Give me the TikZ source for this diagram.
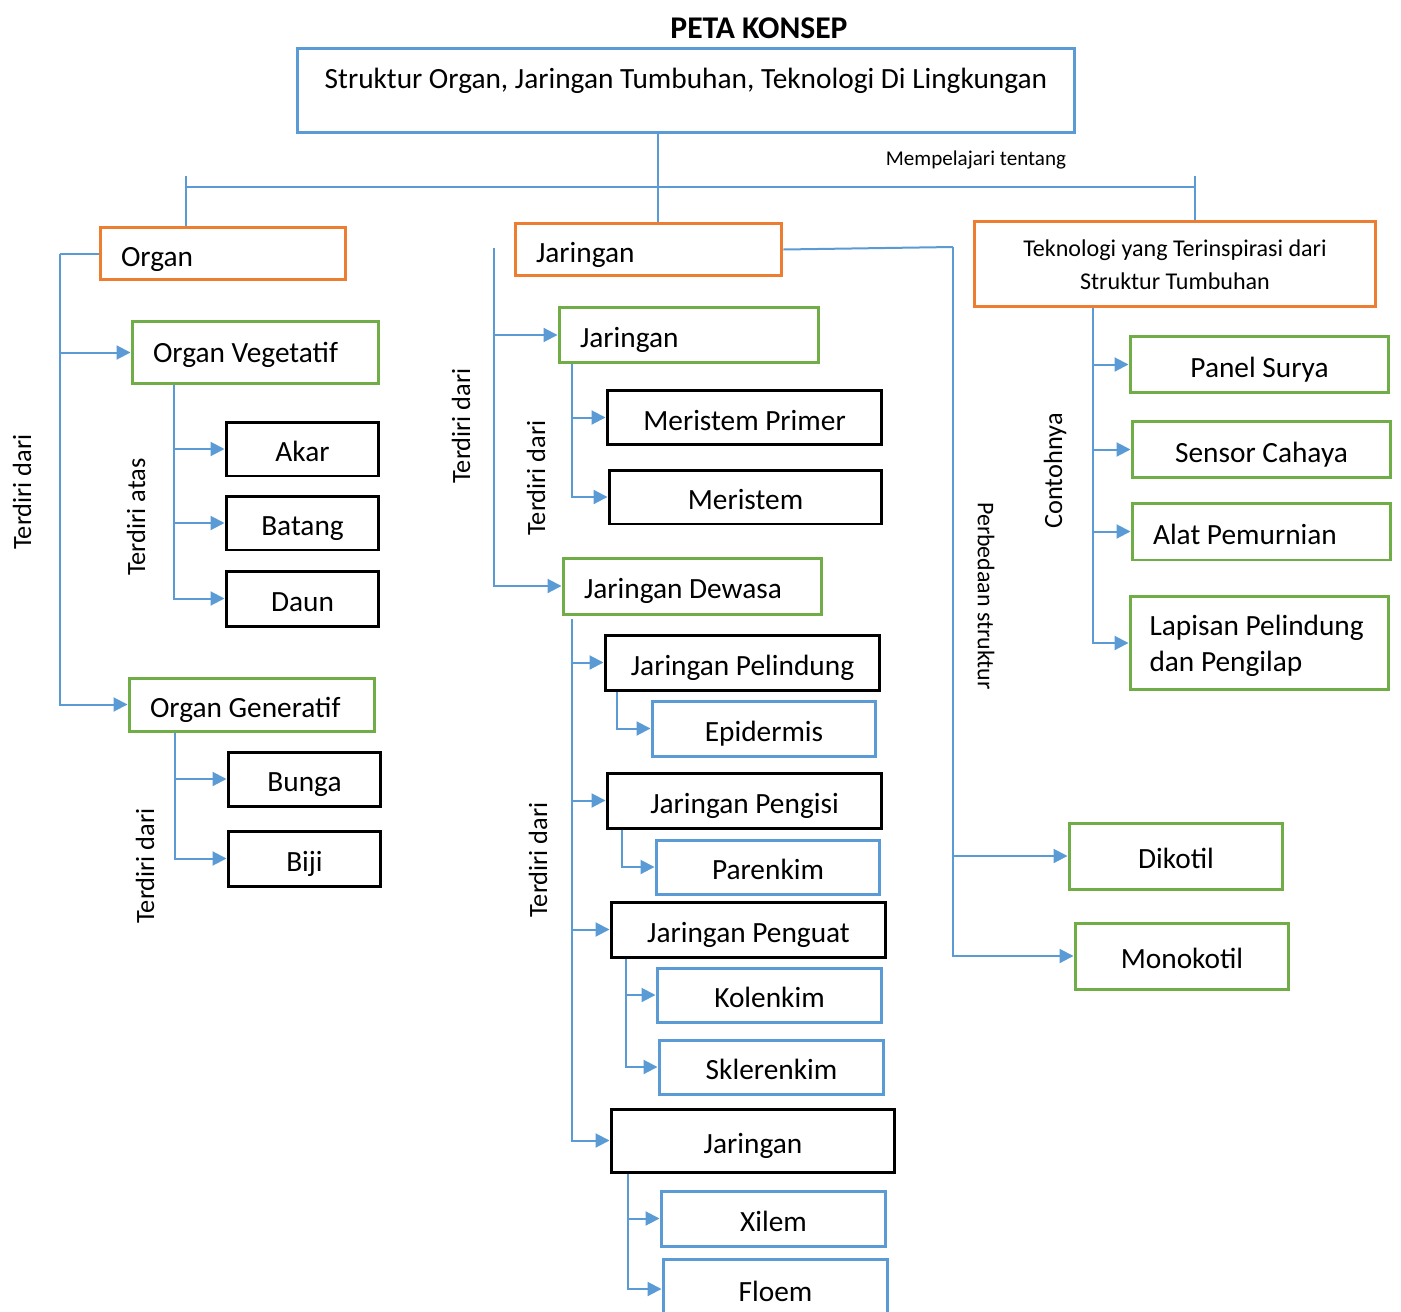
\documentclass[tikz,border=0pt]{standalone}
\usepackage{fontspec}
\setmainfont{Carlito}
\usepackage{tikz}
\usetikzlibrary{arrows.meta}

\definecolor{lblue}{RGB}{91,155,213}
\definecolor{lorange}{RGB}{237,125,49}
\definecolor{lgreen}{RGB}{112,173,71}

\begin{document}
\begin{tikzpicture}[
    x=0.02cm, y=-0.02cm,
    box/.style={rectangle, draw, line width=0.06cm, inner xsep=0.42cm, inner ysep=0pt, text height=0.6cm, text depth=0.1cm, font=\fontsize{16.7}{21}\selectfont},
    boxo/.style={box, draw=lorange},
    boxg/.style={box, draw=lgreen},
    boxk/.style={box, draw=black},
    boxb/.style={box, draw=lblue},
    lbox/.style={align=flush left, text width=#1},
    conn/.style={draw=lblue, line width=0.04cm},
    arrow/.style={conn, -{Triangle[length=0.28cm, width=0.28cm]}},
    sidelbl/.style={inner sep=0pt, font=\fontsize{15}{18}\selectfont}
]
    \useasboundingbox (0,0) rectangle (1401,1312);

    % Title and main topic
    \node[font=\fontsize{18}{22}\selectfont\bfseries] (title) at (759,28) {PETA KONSEP};
    \node[boxb, minimum width=15.56cm, text height=0.8cm, text depth=0.9cm] (main) at (686,90.5) {Struktur Organ, Jaringan Tumbuhan, Teknologi Di Lingkungan};

    % Organ branch
    \node[boxo, lbox=4.08cm, minimum height=1.06cm, text height=0.64cm, text depth=0.12cm] (organ) at (223,253.5) {Organ};
    \node[boxg, lbox=4.1cm, minimum height=1.26cm, text height=0.5cm] (orgveg) at (255.5,352.5) {Organ Vegetatif};
    \node[boxk, minimum width=3.06cm, minimum height=1.08cm] (akar) at (302.5,449) {Akar};
    \node[boxk, minimum width=3.06cm, minimum height=1.08cm] (batang) at (302.5,523) {Batang};
    \node[boxk, minimum width=3.06cm, minimum height=1.1cm] (daun) at (302.5,598.5) {Daun};
    \node[boxg, lbox=4.08cm, minimum height=1.06cm, text height=0.64cm, text depth=0.12cm] (orggen) at (252,704.5) {Organ Generatif};
    \node[boxk, minimum width=3.06cm, minimum height=1.08cm] (bunga) at (304.5,779) {Bunga};
    \node[boxk, minimum width=3.06cm, minimum height=1.1cm] (biji) at (304.5,858.5) {Biji};

    % Jaringan branch
    \node[boxo, lbox=4.5cm, minimum height=1.06cm, text height=0.64cm, text depth=0.12cm] (jar) at (648.5,249.5) {Jaringan};
    \node[boxg, lbox=4.36cm, minimum height=1.12cm] (jarm) at (689,335) {Jaringan};
    \node[boxk, minimum width=5.5cm, minimum height=1.1cm] (merp) at (744.5,417.5) {Meristem Primer};
    \node[boxk, minimum width=5.46cm, minimum height=1.08cm] (mer) at (745.5,497) {Meristem};
    \node[boxg, lbox=4.34cm, minimum height=1.12cm] (jard) at (692.5,586) {Jaringan Dewasa};
    \node[boxk, minimum width=5.5cm, minimum height=1.1cm] (pelindung) at (742.5,662.5) {Jaringan Pelindung};
    \node[boxb, minimum width=4.48cm, minimum height=1.1cm] (epidermis) at (764,728.5) {Epidermis};
    \node[boxk, minimum width=5.5cm, minimum height=1.1cm] (pengisi) at (744.5,800.5) {Jaringan Pengisi};
    \node[boxb, minimum width=4.48cm, minimum height=1.08cm] (parenkim) at (768,867) {Parenkim};
    \node[boxk, minimum width=5.5cm, minimum height=1.1cm] (penguat) at (748.5,929.5) {Jaringan Penguat};
    \node[boxb, minimum width=4.5cm, minimum height=1.08cm] (kolenkim) at (769.5,995) {Kolenkim};
    \node[boxb, minimum width=4.5cm, minimum height=1.08cm] (sklerenkim) at (771.5,1067) {Sklerenkim};
    \node[boxk, minimum width=5.68cm, minimum height=1.26cm] (jarang) at (753,1140.5) {Jaringan};
    \node[boxb, minimum width=4.5cm, minimum height=1.1cm] (xilem) at (773.5,1218.5) {Xilem};
    \node[boxb, minimum width=4.5cm, minimum height=1.2cm] (floem) at (775.5,1289) {Floem};
    \node[boxg, minimum width=4.28cm, minimum height=1.32cm] (dikotil) at (1176,856) {Dikotil};
    \node[boxg, minimum width=4.28cm, minimum height=1.32cm] (monokotil) at (1182,956) {Monokotil};

    % Teknologi branch
    \node[boxo, minimum width=8.04cm, minimum height=1.72cm, align=center, text height=1.13cm, text depth=0.12cm, font=\fontsize{13.7}{18.7}\selectfont] (tek) at (1175,264) {Teknologi yang Terinspirasi dari\\Struktur Tumbuhan};
    \node[boxg, minimum width=5.18cm, minimum height=1.14cm] (panel) at (1259.5,364.5) {Panel Surya};
    \node[boxg, minimum width=5.18cm, minimum height=1.14cm] (sensor) at (1261.5,449.5) {Sensor Cahaya};
    \node[boxg, lbox=4.34cm, minimum height=1.14cm] (alat) at (1261.5,531.5) {Alat Pemurnian};
    \node[boxg, lbox=4.4cm, inner xsep=0.39cm, minimum height=1.88cm, text height=0.57cm, text depth=0.89cm] (lapisan) at (1259.5,643) {Lapisan Pelindung\\dan Pengilap};

    % Top connectors
    \coordinate (hub) at (658,187);
    \coordinate (busl) at (186,176);
    \coordinate (busr) at (1195,176);
    \draw[conn] (hub |- main.south) -- (hub |- jar.north);
    \draw[conn] (busl |- hub) -- (busr |- hub);
    \draw[conn] (busl) -- (busl |- organ.north);
    \draw[conn] (busr) -- (busr |- tek.north);
    \node[font=\fontsize{12}{14}\selectfont] (mempel) at (976,160) {Mempelajari tentang};

    % Organ connectors
    \draw[conn] (organ.west) -- ++(-39,0) coordinate (orgbus);
    \draw[arrow] (orgbus) |- (orgveg.west);
    \draw[arrow] (orgbus) |- (orggen.west);
    \draw[arrow] ([xshift=0.86cm]orgveg.south west) |- (akar.west);
    \draw[arrow] ([xshift=0.86cm]orgveg.south west) |- (batang.west);
    \draw[arrow] ([xshift=0.86cm]orgveg.south west) |- (daun.west);
    \draw[arrow] ([xshift=0.94cm]orggen.south west) |- (bunga.west);
    \draw[arrow] ([xshift=0.94cm]orggen.south west) |- (biji.west);
    \node[sidelbl, rotate=90] (lblorg) at (22,492) {Terdiri dari};
    \node[sidelbl, rotate=90] (lblveg) at (136,517) {Terdiri atas};
    \node[sidelbl, rotate=90] (lblgen) at (145,866) {Terdiri dari};

    % Jaringan connectors
    \coordinate (jarbus) at (494,248);
    \draw[arrow] (jarbus) |- (jarm.west);
    \draw[arrow] (jarbus) |- (jard.west);
    \draw[arrow] ([xshift=0.28cm]jarm.south west) |- (merp.west);
    \draw[arrow] ([xshift=0.28cm]jarm.south west) |- (mer.west);
    \draw[arrow] ([xshift=0.2cm, yshift=-0.08cm]jard.south west) |- (pelindung.west);
    \draw[arrow] ([xshift=0.2cm, yshift=-0.08cm]jard.south west) |- (pengisi.west);
    \draw[arrow] ([xshift=0.2cm, yshift=-0.08cm]jard.south west) |- (penguat.west);
    \draw[arrow] ([xshift=0.2cm, yshift=-0.08cm]jard.south west) |- (jarang.west);
    \draw[arrow] ([xshift=0.26cm]pelindung.south west) |- (epidermis.west);
    \draw[arrow] ([xshift=0.32cm]pengisi.south west) |- (parenkim.west);
    \draw[arrow] ([xshift=0.32cm]penguat.south west) |- (kolenkim.west);
    \draw[arrow] ([xshift=0.32cm]penguat.south west) |- (sklerenkim.west);
    \draw[arrow] ([xshift=0.36cm]jarang.south west) |- (xilem.west);
    \draw[arrow] ([xshift=0.36cm]jarang.south west) |- (floem.west);
    \node[sidelbl, rotate=90] (lbljar) at (461,426) {Terdiri dari};
    \node[sidelbl, rotate=90] (lblmer) at (536,478) {Terdiri dari};
    \node[sidelbl, rotate=90] (lbldew) at (538,860) {Terdiri dari};

    % Perbedaan struktur
    \coordinate (perbbus) at (953,247);
    \draw[conn] (jar.east) -- (perbbus);
    \draw[arrow] (perbbus) |- (dikotil.west);
    \draw[arrow] (perbbus) |- (monokotil.west);
    \node[sidelbl, rotate=-90, font=\fontsize{13.6}{16}\selectfont] (lblperb) at (986,596) {Perbedaan struktur};

    % Teknologi connectors
    \draw[arrow] ([xshift=2.4cm]tek.south west) |- (panel.west);
    \draw[arrow] ([xshift=2.4cm]tek.south west) |- (sensor.west);
    \draw[arrow] ([xshift=2.4cm]tek.south west) |- (alat.west);
    \draw[arrow] ([xshift=2.4cm]tek.south west) |- (lapisan.west);
    \node[sidelbl, rotate=90] (lbltek) at (1055,471) {Contohnya};
\end{tikzpicture}
\end{document}
